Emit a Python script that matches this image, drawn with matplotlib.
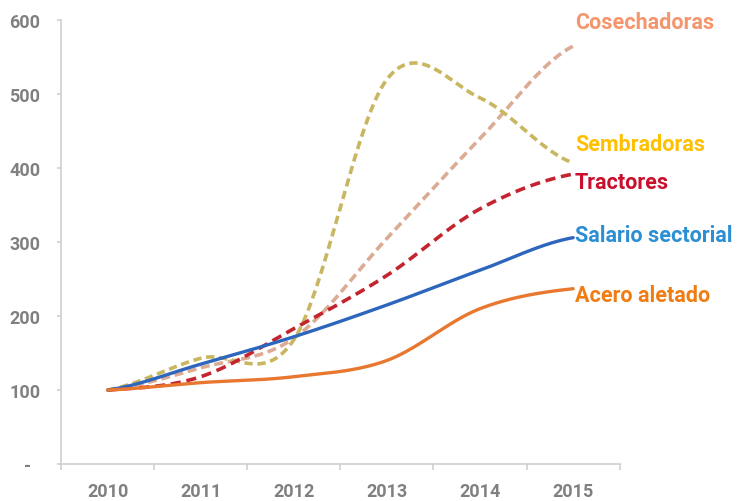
import numpy as np
import matplotlib.pyplot as plt

years = ["2010", "2011", "2012", "2013", "2014", "2015"]
cosechadoras = [100, 130, 170, 305, 440, 565]
sembradoras = [100, 143, 168, 520, 495, 407]
tractores = [100, 118, 183, 255, 345, 392]
salario = [100, 135, 172, 215, 262, 306]
acero = [100, 110, 118, 140, 210, 237]

y_ticks = [0, 100, 200, 300, 400, 500, 600]
y_labels = ["-  ", "100", "200", "300", "400", "500", "600"]


def smooth(vals, n=40):
    # excel-like smoothed line (cardinal spline through the points)
    y = np.asarray(vals, float)
    p = np.concatenate([[y[0]], y, [y[-1]]])
    m = (p[2:] - p[:-2]) / 2
    t = np.linspace(0, 1, n)
    h00 = 2 * t**3 - 3 * t**2 + 1
    h10 = t**3 - 2 * t**2 + t
    h01 = -2 * t**3 + 3 * t**2
    h11 = t**3 - t**2
    xs, ys = [], []
    for i in range(len(y) - 1):
        xs.append(i + t)
        ys.append(h00 * y[i] + h10 * m[i] + h01 * y[i + 1] + h11 * m[i + 1])
    return np.concatenate(xs), np.concatenate(ys)


plt.rcParams["font.family"] = ["Roboto", "DejaVu Sans"]

fig = plt.figure(figsize=(7.37, 5.02), dpi=100)
ax = fig.add_axes([0.0828, 0.0737, 0.758, 0.884])

series = [
    ("Cosechadoras", cosechadoras, "#dcab94", "#f4956c", (2.5, 1.3), 598),
    ("Sembradoras", sembradoras, "#c9b660", "#ffc000", (2.3, 1.3), 432),
    ("Tractores", tractores, "#c4242e", "#c8102e", (2.8, 1.6), 381),
    ("Salario sectorial", salario, "#2e66bd", "#2b8fd3", None, 309),
    ("Acero aletado", acero, "#e8782f", "#f07c12", None, 228),
]

for name, vals, lc, tc, dash, ly in series:
    xs, ys = smooth(vals)
    if dash is None:
        ax.plot(xs, ys, color=lc, lw=2.4, solid_capstyle="round")
    else:
        ax.plot(xs, ys, color=lc, lw=2.6, dashes=dash)
    ax.text(5.02, ly, name, color=tc, fontsize=15.5, fontweight="bold",
            ha="left", va="center")

ax.set_xlim(-0.5, 5.5)
ax.set_ylim(0, 600)
ax.set_xticks(range(len(years)))
ax.set_xticklabels(years)
ax.set_xticks(np.arange(-0.5, 5.6, 1), minor=True)
ax.set_yticks(y_ticks)
ax.set_yticklabels(y_labels)

for s in ["top", "right"]:
    ax.spines[s].set_visible(False)
for s in ["left", "bottom"]:
    ax.spines[s].set_color("#d0d0d0")
    ax.spines[s].set_linewidth(1.2)

ax.tick_params(axis="x", which="major", length=0, pad=13,
               labelsize=13, labelcolor="#808080")
ax.tick_params(axis="x", which="minor", length=4, width=1.2, color="#d0d0d0")
ax.tick_params(axis="y", length=3, width=1.2, color="#d0d0d0", pad=12,
               labelsize=13, labelcolor="#808080")
for lab in ax.get_xticklabels() + ax.get_yticklabels():
    lab.set_fontweight("bold")

fig.savefig("out.png", dpi=100)
